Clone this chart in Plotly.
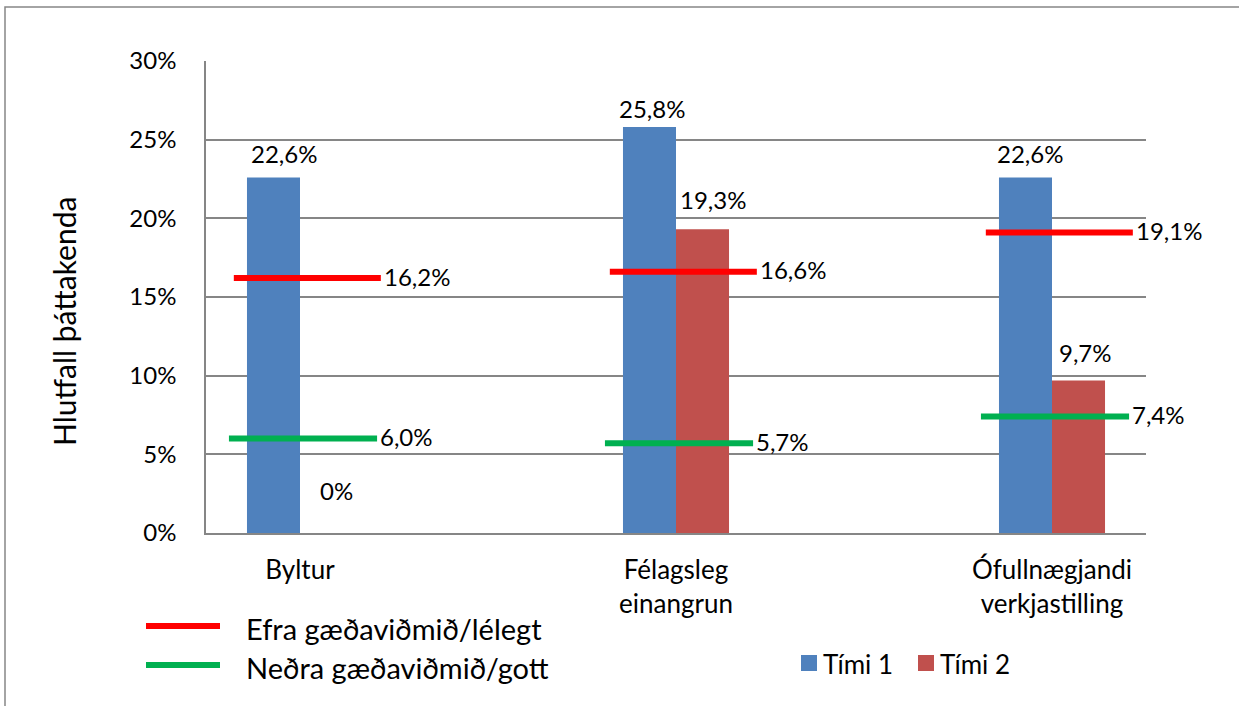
import plotly.graph_objects as go

# ---------------- data ----------------
categories = ["Byltur", "Félagsleg<br>einangrun", "Ófullnægjandi<br>verkjastilling"]
time1 = [22.6, 25.8, 22.6]
time2 = [0.0, 19.3, 9.7]
upper_limit = [16.2, 16.6, 19.1]   # Efra gæðaviðmið/lélegt
lower_limit = [6.0, 5.7, 7.4]      # Neðra gæðaviðmið/gott
y_tick_values = [0, 5, 10, 15, 20, 25, 30]
y_tick_labels = ["0%", "5%", "10%", "15%", "20%", "25%", "30%"]
series_names = ["Tími 1", "Tími 2"]
line_names = ["Efra gæðaviðmið/lélegt", "Neðra gæðaviðmið/gott"]
y_title = "Hlutfall þáttakenda"

# ---------------- styling ----------------
FONT = "Lato, 'Noto Sans', sans-serif"
BLUE = "#4F81BD"
BRED = "#C0504D"
LRED = "#FF0000"
GREEN = "#00B050"
GRID = "#868686"

W, H = 1239, 706
L, R, T, B = 206, 1146, 61, 533
BAR_W = 0.141
pos = [1, 2, 3]

# label offsets (pixels) for bar data labels, Tími 1 then Tími 2
t1_dx, t1_dy = [11, 3, 5], [24, 19, 24]
t2_dx, t2_dy = [10, 10, 7], [43, 30, 28]
RED_SPAN = (-0.176, 0.215)
GREEN_SPAN = (-0.189, 0.205)
LABEL_SIZE = 24


def px(x):
    return (x - L) / (R - L)


def py(y):
    return (B - y) / (B - T)


def fmt(v):
    return "0%" if v == 0 else f"{v:.1f}%".replace(".", ",")


fig = go.Figure()
fig.add_trace(go.Bar(x=pos, y=time1, name=series_names[0], marker_color=BLUE,
                     marker_line_width=0, showlegend=False, hoverinfo="skip"))
fig.add_trace(go.Bar(x=pos, y=time2, name=series_names[1], marker_color=BRED,
                     marker_line_width=0, showlegend=False, hoverinfo="skip"))


def seg_xy(vals, span):
    xs, ys = [], []
    for c, v in zip(pos, vals):
        xs += [c + span[0], c + span[1], None]
        ys += [v, v, None]
    return xs, ys


rx, ry = seg_xy(upper_limit, RED_SPAN)
gx, gy = seg_xy(lower_limit, GREEN_SPAN)
fig.add_trace(go.Scatter(x=rx, y=ry, mode="lines", line=dict(color=LRED, width=6),
                         name=line_names[0], showlegend=False, hoverinfo="skip"))
fig.add_trace(go.Scatter(x=gx, y=gy, mode="lines", line=dict(color=GREEN, width=6),
                         name=line_names[1], showlegend=False, hoverinfo="skip"))

annotations = []
lab_font = dict(size=LABEL_SIZE, color="black", family=FONT)
# bar labels
for i, c in enumerate(pos):
    annotations.append(dict(x=c - BAR_W / 2, y=time1[i], xref="x", yref="y", text=fmt(time1[i]),
                            showarrow=False, xanchor="center", yanchor="middle",
                            xshift=t1_dx[i], yshift=t1_dy[i], font=lab_font))
    annotations.append(dict(x=c + BAR_W / 2, y=time2[i], xref="x", yref="y", text=fmt(time2[i]),
                            showarrow=False, xanchor="center", yanchor="middle",
                            xshift=t2_dx[i], yshift=t2_dy[i], font=lab_font))
# line labels
for c, v in zip(pos, upper_limit):
    annotations.append(dict(x=c + RED_SPAN[1], y=v, xref="x", yref="y", text=fmt(v), showarrow=False,
                            xanchor="left", yanchor="middle", xshift=1, yshift=2, font=lab_font))
for c, v in zip(pos, lower_limit):
    annotations.append(dict(x=c + GREEN_SPAN[1], y=v, xref="x", yref="y", text=fmt(v), showarrow=False,
                            xanchor="left", yanchor="middle", xshift=1, yshift=2, font=lab_font))

# y-axis title
annotations.append(dict(x=px(64), y=py(322), xref="paper", yref="paper", text=y_title, textangle=-90,
                        showarrow=False, xanchor="center", yanchor="middle",
                        font=dict(size=30, color="black", family=FONT)))

shapes = []
# outer border
shapes.append(dict(type="rect", xref="paper", yref="paper", x0=px(5), x1=px(1260), y0=py(730), y1=py(7),
                   line=dict(color=GRID, width=1.5), fillcolor="rgba(0,0,0,0)", layer="below"))

# line legend
for name, col, yc in [(line_names[0], LRED, 626), (line_names[1], GREEN, 665)]:
    shapes.append(dict(type="line", xref="paper", yref="paper", x0=px(146), x1=px(220), y0=py(yc), y1=py(yc),
                       line=dict(color=col, width=6)))
    annotations.append(dict(x=px(244), y=py(yc + 2), xref="paper", yref="paper", text=name, showarrow=False,
                            xanchor="left", yanchor="middle", font=dict(size=29, color="black", family=FONT)))

# bar legend
for name, col, x0 in [(series_names[0], BLUE, 801), (series_names[1], BRED, 918)]:
    shapes.append(dict(type="rect", xref="paper", yref="paper", x0=px(x0), x1=px(x0 + 16),
                       y0=py(671), y1=py(655), fillcolor=col, line=dict(width=0)))
    annotations.append(dict(x=px(x0 + 20), y=py(664), xref="paper", yref="paper", text=name, showarrow=False,
                            xanchor="left", yanchor="middle", font=dict(size=26, color="black", family=FONT)))

fig.update_layout(
    width=W, height=H,
    margin=dict(l=L, r=W - R, t=T, b=H - B, pad=0),
    paper_bgcolor="white", plot_bgcolor="white",
    barmode="group", bargap=1 - 2 * BAR_W, bargroupgap=0,
    font=dict(family=FONT, color="black"),
    showlegend=False,
    annotations=annotations, shapes=shapes,
)
fig.update_xaxes(range=[0.75, 3.25], tickvals=pos, ticktext=categories, showgrid=False, zeroline=False,
                 showline=True, linecolor=GRID, linewidth=1.5, ticks="", ticklabelstandoff=13,
                 tickfont=dict(size=26, color="black", family=FONT))
fig.update_yaxes(range=[0, 30], tickvals=y_tick_values, ticktext=y_tick_labels, showgrid=True, gridcolor=GRID,
                 gridwidth=1.5, zeroline=False, showline=True, linecolor=GRID, linewidth=1.5, ticks="",
                 ticklabelstandoff=23, tickfont=dict(size=24, color="black", family=FONT))

fig.write_html("out.html", config={"displayModeBar": False},
               post_script="document.body.style.margin='0';document.body.style.overflow='hidden';")
